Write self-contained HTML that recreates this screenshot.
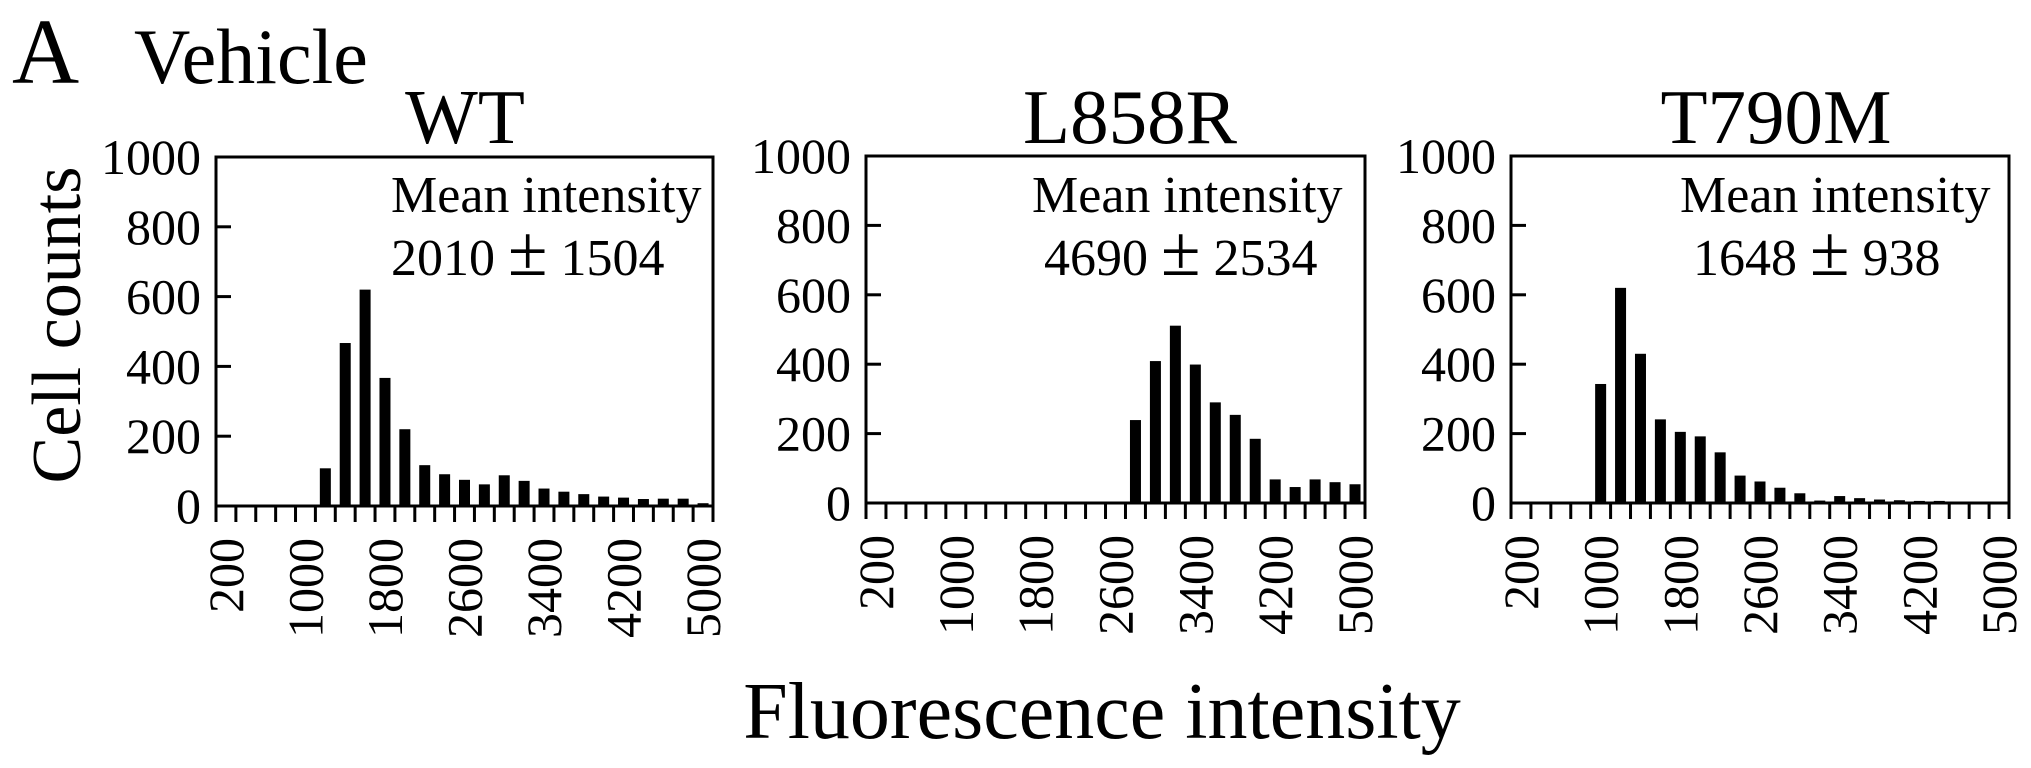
<!DOCTYPE html>
<html><head><meta charset="utf-8"><style>
html,body{margin:0;padding:0;background:#fff;}
svg{display:block;font-family:"Liberation Serif","DejaVu Serif",serif;}
</style></head><body>
<svg id="fig" width="2031" height="768" viewBox="0 0 2031 768" xmlns="http://www.w3.org/2000/svg">
<text x="12" y="83" font-size="93">A</text>
<text x="134" y="83" font-size="78">Vehicle</text>
<text transform="translate(80,325) rotate(-90)" text-anchor="middle" font-size="70">Cell counts</text>
<text x="1102" y="738" text-anchor="middle" font-size="80">Fluorescence intensity</text>
<g id="panels"></g>
</svg>
<script>
const binLabels = ["200","1000","1800","2600","3400","4200","5000"];
const yTicks = [0,200,400,600,800,1000];
const nBins = 25;
const wtCounts = [0,0,0,0,0,108,467,620,367,220,117,91,75,62,88,72,50,41,34,27,24,20,21,21,8];
const l858rCounts = [0,0,0,0,0,0,0,0,0,0,0,0,2,239,409,511,399,290,254,185,68,46,68,60,54];
const t790mCounts = [0,0,0,3,343,620,430,241,205,192,146,79,62,44,28,7,20,14,10,8,6,6,0,0,0];
const titles = ["WT","L858R","T790M"];
const meanLabels = ["Mean intensity","Mean intensity","Mean intensity"];
const meanLeft = ["2010","4690","1648"];
const meanRight = ["1504","2534","938"];

const NS = "http://www.w3.org/2000/svg";
const root = document.getElementById("panels");
function mk(tag, attrs, parent){const e=document.createElementNS(NS,tag);for(const k in attrs)e.setAttribute(k,attrs[k]);parent.appendChild(e);return e;}

const layouts = [
  {x0:216,x1:713,top:157,base:506,tx:465,m1:391,m2:391},
  {x0:866,x1:1365,top:156,base:503,tx:1130,m1:1032,m2:1044},
  {x0:1511,x1:2009,top:156,base:503,tx:1776,m1:1680,m2:1693}
];
const series = [wtCounts,l858rCounts,t790mCounts];
const names = ["wt","l858r","t790m"];

layouts.forEach((L,p)=>{
  const g = mk("g",{},root);
  
  
  const bw = (L.x1-L.x0)/nBins;
  const xc = i => L.x0 + (i+0.5)*bw;
  const ys = v => L.base - v*(L.base-L.top)/1000;
  const t = mk("text",{x:L.tx,y:143,"text-anchor":"middle","font-size":77},g);
  t.textContent = titles[p];
  
  
  const fr = mk("rect",{x:L.x0,y:L.top,width:L.x1-L.x0,height:L.base-L.top,fill:"none",stroke:"#000","stroke-width":3},g);
  
  
  yTicks.forEach(v=>{
    const y = ys(v);
    if(v>0 && v<1000){
      const tk = mk("line",{x1:L.x0,x2:L.x0+15,y1:y,y2:y,stroke:"#000","stroke-width":3},g);
      
      
    }
    const lb = mk("text",{x:L.x0-15,y:y,"text-anchor":"end","dominant-baseline":"central","font-size":50},g);
    lb.textContent = String(v);
    
    
  });
  for(let i=0;i<=nBins;i++){
    const x = L.x0 + i*bw;
    const tk = mk("line",{x1:x,x2:x,y1:L.base,y2:L.base+16,stroke:"#000","stroke-width":3},g);
    
    
  }
  binLabels.forEach((s,k)=>{
    const cx = xc(k*4), y = L.base+32;
    const lb = mk("text",{x:cx,y:y,"text-anchor":"end","dominant-baseline":"central","font-size":50,transform:`rotate(-90 ${cx} ${y})`},g);
    lb.textContent = s;
    
    
  });
  series[p].forEach((v,i)=>{
    if(v<=0) return;
    const y = ys(v);
    const b = mk("rect",{x:xc(i)-5.5,y:y,width:11,height:L.base-y,fill:"#000"},g);
    
    
  });
  const m1 = mk("text",{x:L.m1,y:212,"font-size":52},g);
  m1.textContent = meanLabels[p];
  
  
  const m2 = mk("text",{x:L.m2,y:275,"font-size":52,"xml:space":"preserve"},g);
  
  
  const s1 = mk("tspan",{},m2); s1.textContent = meanLeft[p] + " ";
  const s2 = mk("tspan",{"font-size":72}, m2); s2.textContent = "\u00B1";
  const s3 = mk("tspan",{},m2); s3.textContent = " " + meanRight[p];
});
</script>
</body></html>
